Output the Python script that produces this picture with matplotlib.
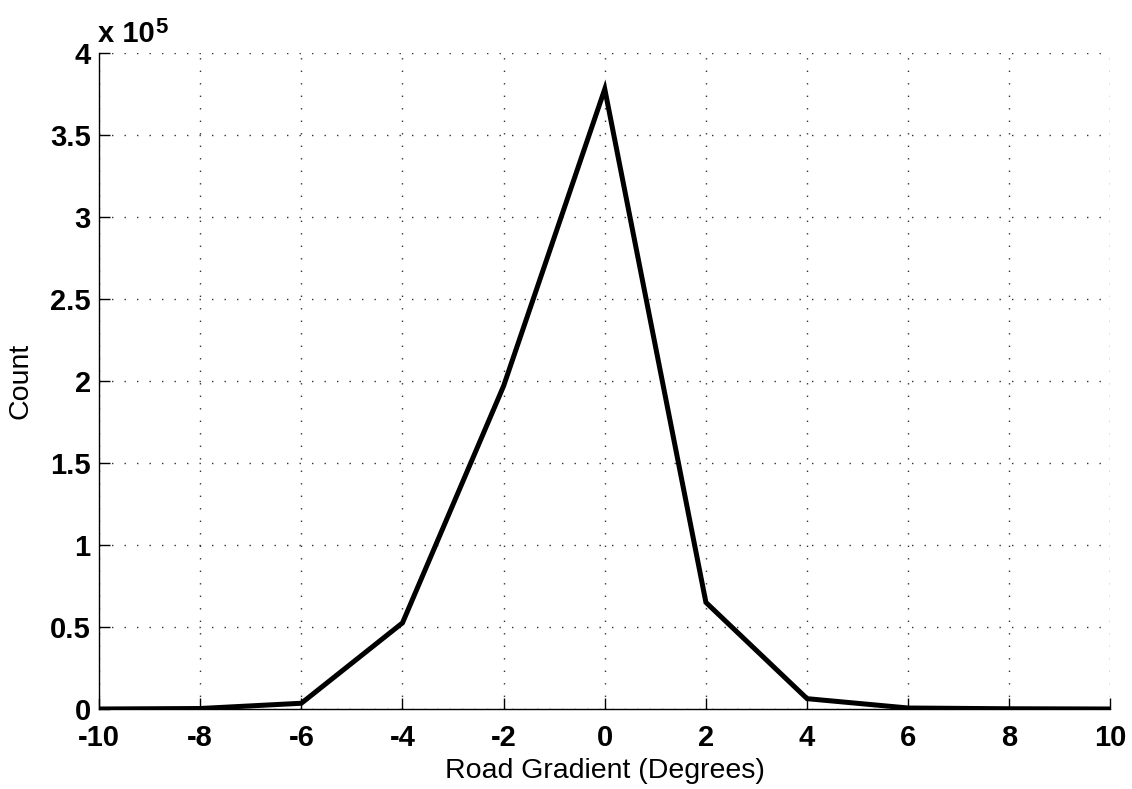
import numpy as np
import matplotlib
matplotlib.use("Agg")
import matplotlib.pyplot as plt

# road gradient histogram (bin centres in degrees) and counts
gradient = [-10, -8, -6, -4, -2, 0, 2, 4, 6, 8, 10]
counts = [0, 300, 3500, 52500, 197000, 378000, 65000, 6300, 600, 150, 0]

xticks = list(range(-10, 11, 2))
yticks = [0, 0.5e5, 1e5, 1.5e5, 2e5, 2.5e5, 3e5, 3.5e5, 4e5]
yticklabels = ['0', '0.5', '1', '1.5', '2', '2.5', '3', '3.5', '4']

plt.rcParams['font.family'] = ['Liberation Sans', 'DejaVu Sans']

fig = plt.figure(figsize=(11.32, 7.89), dpi=100)
ax = fig.add_axes([0.0875, 0.1014, 0.8935, 0.8314])

ax.plot(gradient, counts, color='black', linewidth=3.6, solid_joinstyle='miter')

ax.set_xlim(-10, 10)
ax.set_ylim(0, 4e5)
ax.set_xticks(xticks)
ax.set_xticklabels([str(t) for t in xticks])
ax.set_yticks(yticks)
ax.set_yticklabels(yticklabels)

ax.grid(True, color='#333333', linestyle=(0, (1, 8)), linewidth=1.0)
ax.tick_params(direction='in', length=8, width=1, labelsize=21)
ax.tick_params(axis='x', pad=11)
ax.tick_params(axis='y', pad=6)
for lab in ax.get_xticklabels() + ax.get_yticklabels():
    lab.set_fontweight('bold')

ax.spines['top'].set_visible(False)
ax.spines['right'].set_visible(False)
ax.spines['left'].set_linewidth(1.0)
ax.spines['bottom'].set_linewidth(1.0)

ax.set_xlabel('Road Gradient (Degrees)', fontsize=20.5, labelpad=4)
ax.set_ylabel('Count', fontsize=20.5, labelpad=12)

# MATLAB style exponent label above the y axis
fig.text(98 / 1132, 1 - 42 / 789, 'x 10', fontsize=21, fontweight='bold',
         ha='left', va='baseline')
fig.text(155 / 1132, 1 - 33 / 789, '5', fontsize=16, fontweight='bold',
         ha='left', va='baseline')

fig.savefig('out.png', dpi=100)
